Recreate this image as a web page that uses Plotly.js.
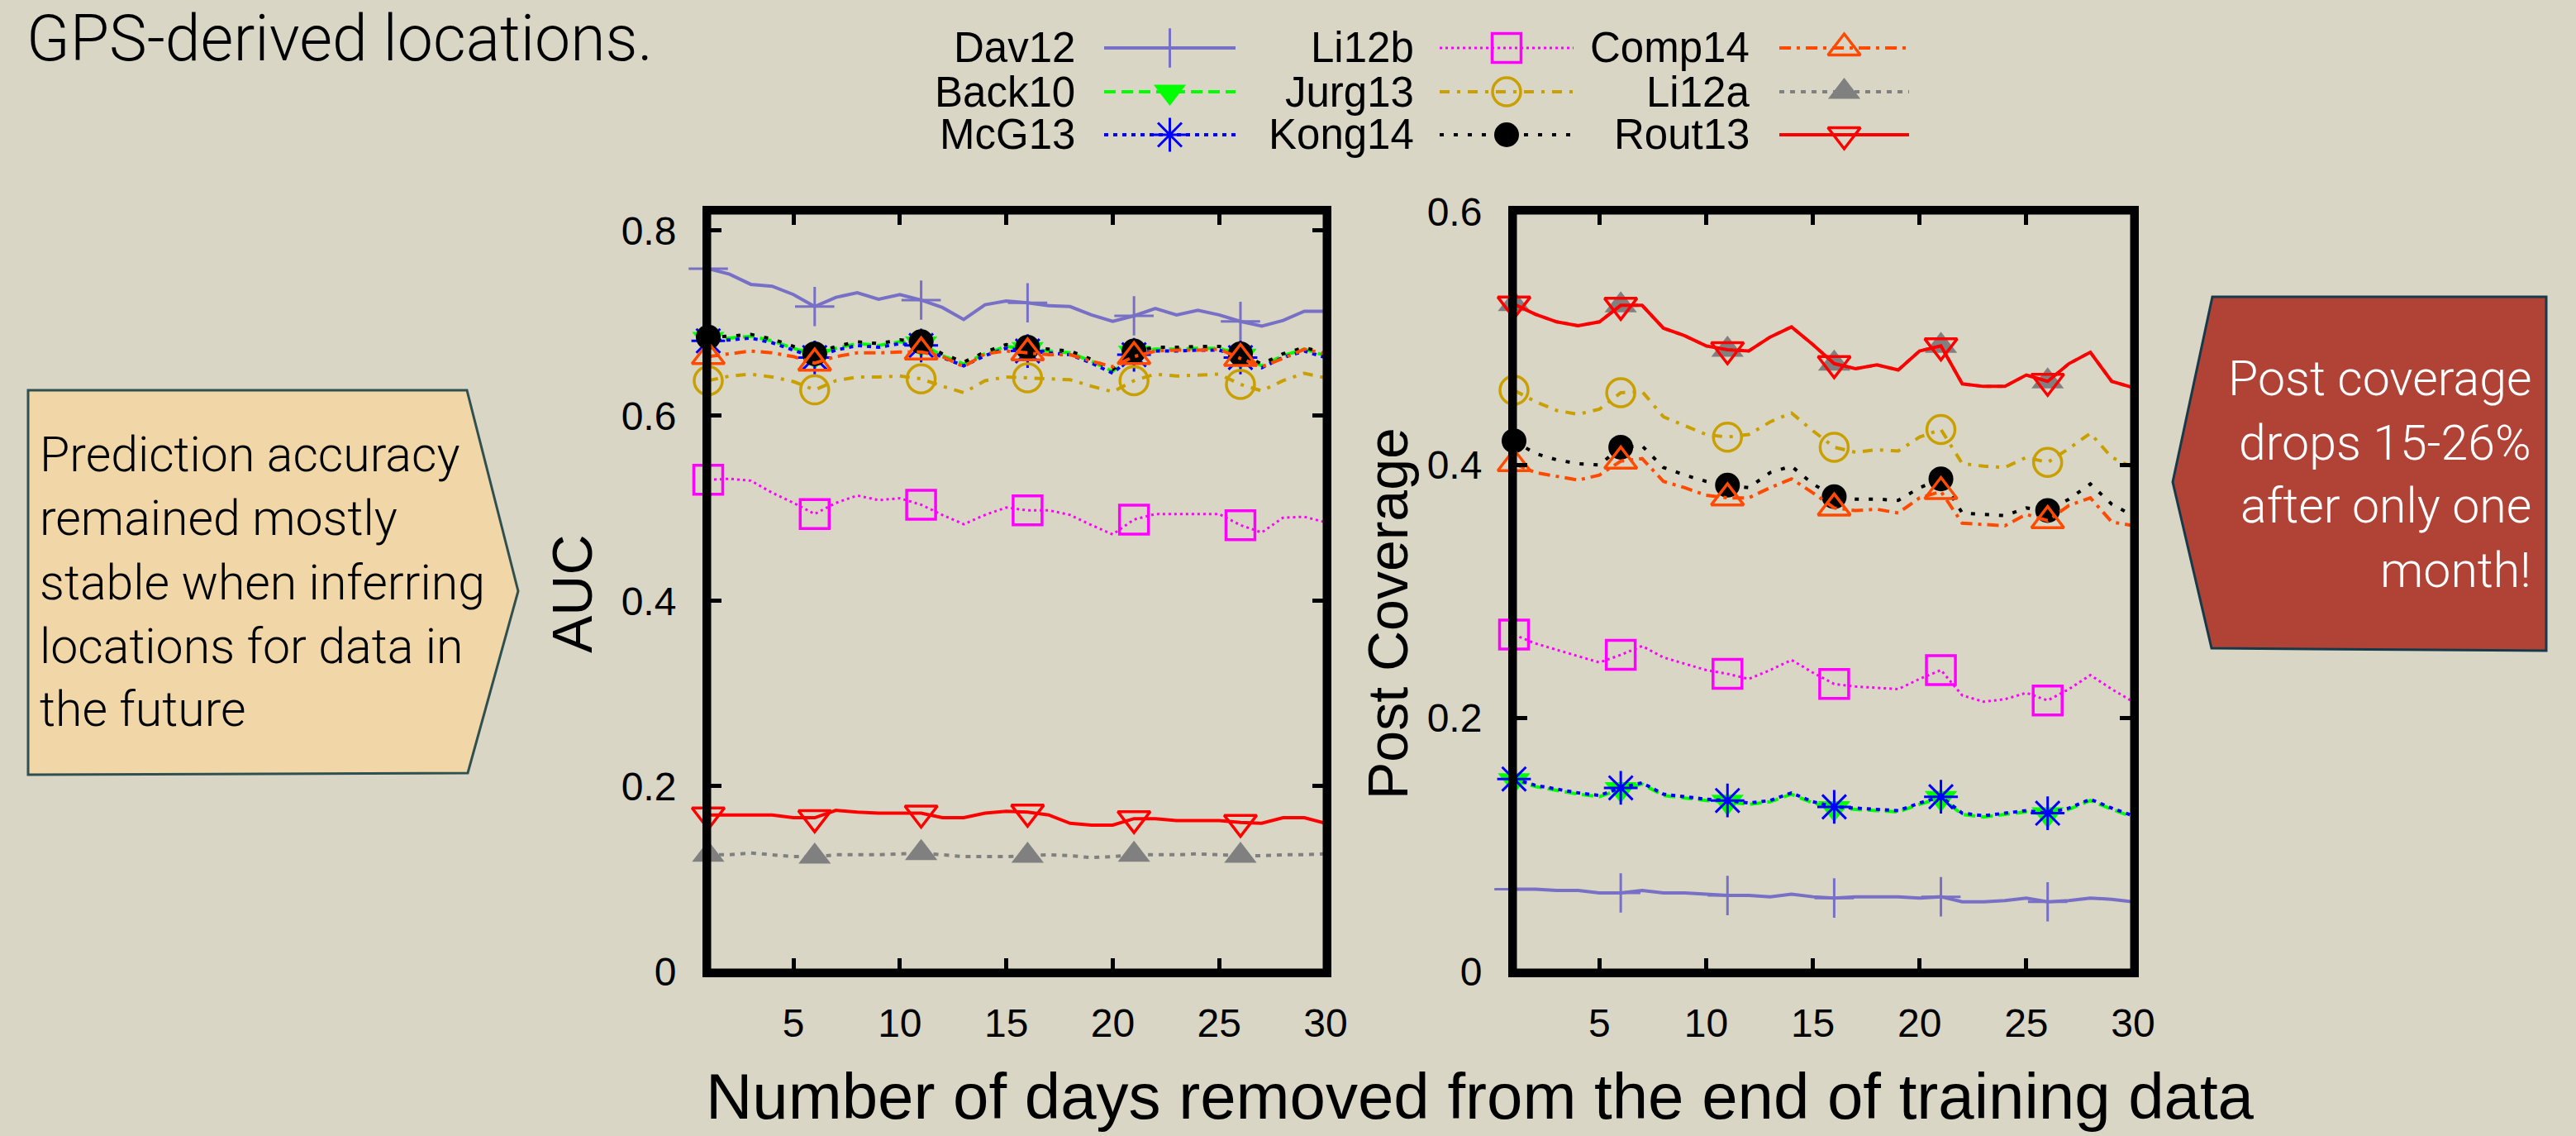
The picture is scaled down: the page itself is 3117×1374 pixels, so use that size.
<!DOCTYPE html>
<html>
<head>
<meta charset="utf-8">
<script src="https://cdn.plot.ly/plotly-3.0.1.min.js"></script>
<style>
html,body{margin:0;padding:0;background:#d9d6c5;}
#chart{width:3117px;height:1374px;}
</style>
</head>
<body>
<div id="chart"></div>
<script>
// ---------------- DATA ----------------
const days = [1,2,3,4,5,6,7,8,9,10,11,12,13,14,15,16,17,18,19,20,21,22,23,24,25,26,27,28,29,30];
const seriesNames = ['Dav12','Back10','McG13','Li12b','Jurg13','Kong14','Comp14','Li12a','Rout13'];

// AUC (left panel)
const aucDav12  = [0.759,0.753,0.742,0.740,0.731,0.718,0.728,0.733,0.726,0.731,0.725,0.717,0.704,0.720,0.724,0.722,0.719,0.718,0.709,0.702,0.708,0.716,0.709,0.714,0.709,0.702,0.697,0.703,0.713,0.713];
const aucBack10 = [0.683,0.684,0.686,0.681,0.673,0.665,0.673,0.678,0.676,0.680,0.678,0.665,0.656,0.667,0.675,0.672,0.670,0.668,0.659,0.648,0.668,0.672,0.672,0.673,0.673,0.665,0.654,0.665,0.672,0.665];
const aucMcG13  = [0.681,0.682,0.684,0.679,0.671,0.663,0.671,0.676,0.674,0.678,0.676,0.663,0.654,0.665,0.673,0.670,0.668,0.666,0.657,0.646,0.666,0.670,0.670,0.671,0.671,0.663,0.652,0.663,0.670,0.663];
const aucLi12b  = [0.531,0.532,0.530,0.517,0.506,0.494,0.506,0.514,0.509,0.511,0.504,0.493,0.483,0.493,0.501,0.498,0.498,0.493,0.482,0.472,0.488,0.494,0.494,0.494,0.494,0.482,0.474,0.490,0.491,0.485];
const aucJurg13 = [0.638,0.643,0.645,0.642,0.637,0.628,0.638,0.642,0.642,0.643,0.640,0.632,0.625,0.638,0.642,0.641,0.640,0.639,0.632,0.626,0.638,0.645,0.643,0.644,0.645,0.634,0.627,0.638,0.646,0.641];
const aucKong14 = [0.685,0.686,0.688,0.683,0.675,0.667,0.675,0.680,0.678,0.682,0.680,0.667,0.658,0.669,0.677,0.674,0.672,0.670,0.661,0.650,0.670,0.674,0.674,0.675,0.675,0.667,0.656,0.667,0.674,0.667];
const aucComp14 = [0.664,0.667,0.670,0.668,0.664,0.657,0.664,0.668,0.668,0.669,0.669,0.664,0.653,0.667,0.670,0.668,0.666,0.666,0.659,0.653,0.664,0.670,0.671,0.671,0.672,0.662,0.653,0.662,0.672,0.667];
const aucLi12a  = [0.126,0.126,0.128,0.126,0.124,0.124,0.126,0.126,0.126,0.127,0.128,0.126,0.124,0.124,0.124,0.125,0.126,0.125,0.123,0.124,0.126,0.126,0.126,0.127,0.126,0.125,0.125,0.126,0.126,0.127];
const aucRout13 = [0.169,0.169,0.169,0.169,0.166,0.166,0.174,0.172,0.171,0.171,0.171,0.166,0.166,0.171,0.173,0.172,0.169,0.160,0.158,0.158,0.165,0.165,0.163,0.163,0.163,0.161,0.160,0.166,0.166,0.160];

// Post coverage (right panel)
const covDav12  = [0.065,0.065,0.064,0.064,0.062,0.062,0.064,0.062,0.062,0.061,0.060,0.060,0.059,0.061,0.059,0.058,0.059,0.059,0.059,0.058,0.059,0.055,0.055,0.056,0.058,0.055,0.056,0.058,0.057,0.055];
const covBack10 = [0.151,0.146,0.143,0.140,0.138,0.144,0.148,0.139,0.137,0.135,0.134,0.132,0.134,0.140,0.133,0.129,0.128,0.127,0.126,0.132,0.137,0.124,0.122,0.124,0.126,0.124,0.128,0.135,0.128,0.122];
const covMcG13  = [0.152,0.147,0.144,0.141,0.139,0.145,0.149,0.140,0.138,0.136,0.135,0.133,0.135,0.141,0.134,0.130,0.129,0.128,0.127,0.133,0.138,0.125,0.123,0.125,0.127,0.125,0.129,0.136,0.129,0.123];
const covLi12b  = [0.266,0.259,0.254,0.249,0.244,0.250,0.257,0.248,0.243,0.238,0.235,0.231,0.238,0.246,0.236,0.227,0.225,0.224,0.223,0.231,0.238,0.218,0.213,0.215,0.220,0.214,0.223,0.234,0.223,0.213];
const covJurg13 = [0.459,0.450,0.443,0.440,0.444,0.457,0.458,0.438,0.431,0.424,0.422,0.424,0.434,0.441,0.427,0.414,0.410,0.412,0.411,0.422,0.428,0.401,0.399,0.398,0.406,0.402,0.413,0.425,0.406,0.398];
const covKong14 = [0.419,0.409,0.404,0.401,0.400,0.414,0.415,0.398,0.392,0.387,0.384,0.382,0.394,0.399,0.385,0.375,0.373,0.373,0.372,0.382,0.389,0.362,0.361,0.360,0.366,0.364,0.373,0.385,0.369,0.360];
const covComp14 = [0.401,0.394,0.391,0.388,0.392,0.403,0.405,0.387,0.382,0.376,0.374,0.374,0.382,0.389,0.378,0.366,0.364,0.365,0.362,0.374,0.379,0.354,0.353,0.352,0.361,0.356,0.368,0.374,0.355,0.352];
const covLi12a  = [0.527,0.519,0.513,0.510,0.513,0.526,0.526,0.508,0.502,0.494,0.491,0.490,0.501,0.509,0.495,0.480,0.476,0.479,0.475,0.490,0.494,0.464,0.462,0.462,0.471,0.466,0.480,0.489,0.466,0.461];
const covRout13 = [0.527,0.519,0.513,0.510,0.513,0.526,0.526,0.508,0.502,0.494,0.491,0.490,0.501,0.509,0.495,0.480,0.476,0.479,0.475,0.490,0.494,0.464,0.462,0.462,0.471,0.466,0.480,0.489,0.466,0.461];

const xTickVals = [5,10,15,20,25,30];
const aucTickVals = [0,0.2,0.4,0.6,0.8];
const aucTickText = ['0','0.2','0.4','0.6','0.8'];
const covTickVals = [0,0.2,0.4,0.6];
const covTickText = ['0','0.2','0.4','0.6'];

const aucSeries = [aucDav12,aucBack10,aucMcG13,aucLi12b,aucJurg13,aucKong14,aucComp14,aucLi12a,aucRout13];
const covSeries = [covDav12,covBack10,covMcG13,covLi12b,covJurg13,covKong14,covComp14,covLi12a,covRout13];

// ---------------- STYLES ----------------
const styles = {
  Dav12:  {color:'#7770c6', dash:'solid',              width:4,   symbol:'cross-thin-open',    size:34, mline:3},
  Back10: {color:'#00ff00', dash:'14px,7px',           width:4,   symbol:'triangle-down',      size:34, mline:0},
  McG13:  {color:'#0000ff', dash:'5px,6px',            width:4,   symbol:'asterisk-open',      size:34, mline:3},
  Li12b:  {color:'#ff00ff', dash:'3px,4px',            width:3,   symbol:'square-open',        size:35, mline:3.5},
  Jurg13: {color:'#c9a000', dash:'12px,9px,4px,9px',   width:4,   symbol:'circle-open',        size:34, mline:3.5},
  Kong14: {color:'#000000', dash:'5px,12px',           width:4,   symbol:'circle',             size:30, mline:0},
  Comp14: {color:'#ff4a00', dash:'14px,7px,4px,7px',   width:4,   symbol:'triangle-up-open',   size:34, mline:3.5},
  Li12a:  {color:'#808080', dash:'6px,7px',            width:4,   symbol:'triangle-up',        size:34, mline:0},
  Rout13: {color:'#ff0000', dash:'solid',              width:4,   symbol:'triangle-down-open', size:34, mline:3.5}
};
const markerEvery = 5;

const W = 3117, H = 1374;
const bg = '#d9d6c5';
const sansFont = 'Liberation Sans, Arial, sans-serif';
const tickFont = {family: sansFont, size:48, color:'#000'};
const lightFont = 'Roboto, Lato, "Open Sans", sans-serif';

function markerObj(st){
  const open = st.symbol.indexOf('open') >= 0;
  return {
    symbol: st.symbol, size: st.size,
    color: st.color,
    line: {color: st.color, width: open ? st.mline : 0}
  };
}

const traces = [];
function addPanel(seriesArr, xa, ya){
  seriesNames.forEach((name, i) => {
    const st = styles[name];
    const ys = seriesArr[i];
    traces.push({
      type:'scatter', mode:'lines', x: days, y: ys, xaxis: xa, yaxis: ya,
      line:{color: st.color, width: st.width, dash: st.dash},
      showlegend:false, hoverinfo:'skip'
    });
    const mx = days.filter((d, k) => k % markerEvery === 0);
    const my = ys.filter((d, k) => k % markerEvery === 0);
    traces.push({
      type:'scatter', mode:'markers', x: mx, y: my, xaxis: xa, yaxis: ya,
      marker: markerObj(st), cliponaxis:false,
      showlegend:false, hoverinfo:'skip'
    });
  });
}
addPanel(aucSeries, 'x', 'y');
addPanel(covSeries, 'x2', 'y2');

// ---------------- CUSTOM LEGEND (gnuplot style: label then sample) ----------------
const legendRowsY = [58, 111, 163];
const legendCols = [
  {textRight:1303, x0:1336, x1:1495},
  {textRight:1713, x0:1742, x1:1904},
  {textRight:2119, x0:2153, x1:2310}
];
const annotations = [];
seriesNames.forEach((name, i) => {
  const st = styles[name];
  const col = legendCols[Math.floor(i/3)];
  const ry = legendRowsY[i % 3];
  traces.push({
    type:'scatter', mode:'lines', x:[col.x0, col.x1], y:[ry, ry], xaxis:'x3', yaxis:'y3',
    line:{color: st.color, width: st.width, dash: st.dash}, showlegend:false, hoverinfo:'skip'
  });
  traces.push({
    type:'scatter', mode:'markers', x:[(col.x0+col.x1)/2], y:[ry], xaxis:'x3', yaxis:'y3',
    marker: markerObj(st), cliponaxis:false, showlegend:false, hoverinfo:'skip'
  });
  annotations.push({
    xref:'paper', yref:'paper', x: col.textRight/W, y: 1 - ry/H,
    xanchor:'right', yanchor:'middle', showarrow:false, text: name,
    font:{family: sansFont, size:51, color:'#000'}
  });
});

// ---------------- TEXT ----------------
function ann(text, px, py, opts){
  return Object.assign({xref:'paper', yref:'paper', x: px/W, y: 1 - py/H, text: text, showarrow:false}, opts);
}
annotations.push(ann('GPS-derived locations.', 30, 0, {xanchor:'left', yanchor:'top',
  font:{family:lightFont, size:77, color:'#000', weight:300}}));
annotations.push(ann('AUC', 692, 718, {xanchor:'center', yanchor:'middle', textangle:-90,
  font:{family: sansFont, size:68, color:'#000'}}));
annotations.push(ann('Post Coverage', 1679, 742, {xanchor:'center', yanchor:'middle', textangle:-90,
  font:{family: sansFont, size:68, color:'#000'}}));
annotations.push(ann('Number of days removed from the end of training data', 1791, 1326, {xanchor:'center', yanchor:'middle',
  font:{family: sansFont, size:78, color:'#000'}}));

const leftLines = ['Prediction accuracy','remained mostly','stable when inferring','locations for data in','the future'];
const leftBase = [570, 647, 725, 802, 878];
leftLines.forEach((t, k) => annotations.push(ann(t, 46, leftBase[k] - 21, {xanchor:'left', yanchor:'middle',
  font:{family:lightFont, size:59, color:'#000', weight:300}})));
const rightLines = ['Post coverage','drops 15-26%','after only one','month!'];
const rightBase = [478, 556, 633, 710];
rightLines.forEach((t, k) => annotations.push(ann(t, 3065, rightBase[k] - 21, {xanchor:'right', yanchor:'middle',
  font:{family:lightFont, size:59, color:'#ffffff', weight:300}})));

// ---------------- SHAPES ----------------
function pathFrom(pts){
  return 'M ' + pts.map(p => (p[0]/W).toFixed(5) + ',' + (1 - p[1]/H).toFixed(5)).join(' L ') + ' Z';
}
const shapes = [
  {type:'path', xref:'paper', yref:'paper', layer:'below',
   path: pathFrom([[34,472],[565,472],[627,715],[566,935],[34,937]]),
   fillcolor:'#f1d7a7', line:{color:'#2f5050', width:3}},
  {type:'path', xref:'paper', yref:'paper', layer:'below',
   path: pathFrom([[2677,359],[3081,359],[3081,787],[2676,784],[2629,583]]),
   fillcolor:'#b04236', line:{color:'#173a4a', width:3}},
  {type:'rect', xref:'x domain', yref:'y domain', x0:0, x1:1, y0:0, y1:1, layer:'above',
   line:{color:'#000', width:7}},
  {type:'rect', xref:'x2 domain', yref:'y2 domain', x0:0, x1:1, y0:0, y1:1, layer:'above',
   line:{color:'#000', width:7}}
];

// ---------------- AXES ----------------
const yDom = [(H-1175)/H, (H-256)/H];
function xAxis(domain, anchor){
  return {domain: domain, anchor: anchor, range:[1,30], tickvals: xTickVals,
    ticks:'inside', ticklen:16, tickwidth:5, tickcolor:'#000', showline:true, linewidth:7, linecolor:'#000',
    mirror:'ticks', showgrid:false, zeroline:false, tickfont: tickFont, ticklabelstandoff:14};
}
function yAxis(domain, anchor, range, tv, tt){
  return {domain: domain, anchor: anchor, range: range, tickvals: tv, ticktext: tt,
    ticks:'inside', ticklen:16, tickwidth:5, tickcolor:'#000', showline:true, linewidth:7, linecolor:'#000',
    mirror:'ticks', showgrid:false, zeroline:false, tickfont: tickFont, ticklabelstandoff:22};
}

const layout = {
  width: W, height: H,
  margin:{l:0, r:0, t:0, b:0},
  paper_bgcolor: bg, plot_bgcolor: 'rgba(0,0,0,0)',
  showlegend:false,
  xaxis:  xAxis([857/W, 1604/W], 'y'),
  yaxis:  yAxis(yDom, 'x', [0, 0.8205], aucTickVals, aucTickText),
  xaxis2: xAxis([1832/W, 2581/W], 'y2'),
  yaxis2: yAxis(yDom, 'x2', [0, 0.6], covTickVals, covTickText),
  xaxis3: {domain:[0,1], anchor:'y3', range:[0, W], visible:false, fixedrange:true},
  yaxis3: {domain:[0,1], anchor:'x3', range:[H, 0], visible:false, fixedrange:true},
  annotations: annotations,
  shapes: shapes
};

Plotly.newPlot('chart', traces, layout, {staticPlot:true, displayModeBar:false});
</script>
</body>
</html>
